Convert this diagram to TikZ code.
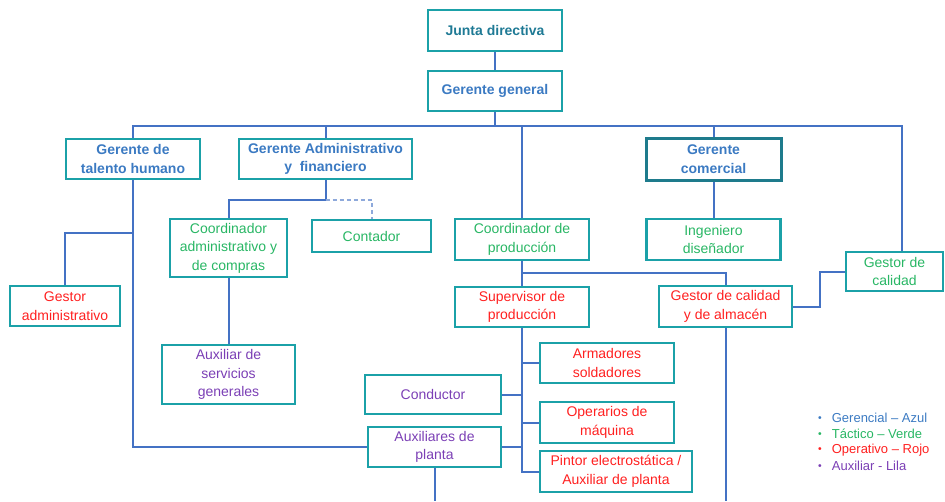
\documentclass[tikz,border=0pt]{standalone}
\usepackage{fontspec}
\usepackage{graphicx}
\setmainfont{Liberation Sans}
\usetikzlibrary{calc}

\definecolor{borde}{RGB}{27,161,168}
\definecolor{bordeosc}{RGB}{30,123,140}
\definecolor{linea}{RGB}{68,114,196}
\definecolor{lineaclara}{RGB}{142,169,219}
\definecolor{azul}{RGB}{59,122,194}
\definecolor{jdcol}{RGB}{31,122,149}
\definecolor{verde}{RGB}{40,182,100}
\definecolor{rojo}{RGB}{255,32,32}
\definecolor{lila}{RGB}{123,63,181}

\newcommand{\vineta}{\raisebox{1pt}{\scalebox{0.8}{\textbullet}}\hspace{10pt}}

\begin{document}
\begin{tikzpicture}[x=1pt, y=-1pt,
	box/.style = {draw=borde, line width=2.5pt, inner sep=0pt, align=center, font=\fontsize{14}{18.5}\selectfont},
	wh/.style 2 args = {minimum width=#1pt, minimum height=#2pt},
	ger/.style = {box, text=azul, font=\fontsize{14}{18.5}\selectfont\bfseries},
	tac/.style = {box, text=verde},
	ope/.style = {box, text=rojo},
	aux/.style = {box, text=lila},
	con/.style = {draw=linea, line width=2pt},
	leg/.style = {anchor=west, inner sep=0pt, font=\fontsize{13}{15}\selectfont}]
	\useasboundingbox (0,0) rectangle (945,501);
	% nivel gerencial
	\node[ger, text=jdcol, wh={134}{41}] (jd) at (495,30.5) {Junta directiva};
	\node[ger, wh={134}{40}] (gg) at (495,91) {Gerente general};
	\node[ger, wh={134}{40}] (gth) at (133,159) {Gerente de\\talento humano};
	\node[ger, wh={173}{40}] (gaf) at (325.5,159) {Gerente Administrativo\\y\ \ financiero};
	\node[ger, draw=bordeosc, line width=3pt, wh={135}{42}] (gc) at (713.5,159) {Gerente\\comercial};
	% nivel tactico
	\node[tac, wh={117}{58}] (cad) at (228.5,248) {Coordinador\\administrativo y\\de compras};
	\node[tac, wh={119}{32}] (cont) at (371.5,236) {Contador};
	\node[tac, wh={134}{41}] (cp) at (522,239.5) {Coordinador de\\producción};
	\node[tac, wh={134}{41}] (ing) at (713.5,239.5) {Ingeniero\\diseñador};
	\node[tac, wh={97}{39}] (gcal) at (894.5,271.5) {Gestor de\\calidad};
	% nivel operativo
	\node[ope, wh={110}{40}] (gadm) at (65,306) {Gestor\\administrativo};
	\node[ope, wh={134}{40}] (sup) at (522,307) {Supervisor de\\producción};
	\node[ope, wh={133}{41}] (gca) at (725.5,306.5) {Gestor de calidad\\y de almacén};
	\node[ope, wh={134}{40}] (arm) at (607,363) {Armadores\\soldadores};
	\node[ope, wh={134}{41}] (opm) at (607,422.5) {Operarios de\\máquina};
	\node[ope, wh={152}{41}] (pin) at (616,471.5) {Pintor electrostática /\\Auxiliar de planta};
	% nivel auxiliar
	\node[aux, wh={133}{59}] (asg) at (228.5,374.5) {Auxiliar de\\servicios\\generales};
	\node[aux, wh={136}{39}] (cond) at (433,394.5) {Conductor};
	\node[aux, wh={133}{40}] (aup) at (434.5,447) {Auxiliares de\\planta};
	\coordinate (fin1) at (434.5,501);
	\coordinate (fin2) at (725.5,501);
	% conexiones
	\draw[con] (jd) -- (gg);
	\draw[con] (gg.south) -- ++(0,14) coordinate (bus);
	\draw[con] (bus) -| (gth);
	\draw[con] (bus) -| (gaf);
	\draw[con] (bus) -| (cp);
	\draw[con] (bus) -| (gc);
	\draw[con] (bus) -| ($(gcal.north)+(7,0)$);
	\draw[con] (gth) |- (aup);
	\draw[con] ($(gth.south)+(0,53)$) -| (gadm);
	\draw[con] (gaf.south) -- ++(0,20) coordinate (ga1);
	\draw[con] (ga1) -| (cad);
	\draw[con, draw=lineaclara, line width=2pt, dash pattern=on 4pt off 3pt] (ga1) -| (cont);
	\draw[con] (cad) -- (asg);
	\draw[con] (gc) -- (ing);
	\draw[con] (cp) -- (sup);
	\draw[con] ($(cp.south)+(0,12)$) -| (gca);
	\draw[con] (gca.east) -- ++(27,0) |- (gcal);
	\draw[con] (gca) -- (fin2);
	\draw[con] (sup) |- (pin);
	\draw[con] (arm) -| (sup);
	\draw[con] (opm) -| (sup);
	\draw[con] (cond) -| (sup);
	\draw[con] (aup) -| (sup);
	\draw[con] (aup) -- (fin1);
	% leyenda
	\node[leg, text=azul] (l1) at (818,418) {\vineta Gerencial – Azul};
	\node[leg, text=verde] (l2) at (818,434) {\vineta Táctico – Verde};
	\node[leg, text=rojo] (l3) at (818,450) {\vineta Operativo – Rojo};
	\node[leg, text=lila] (l4) at (818,466) {\vineta Auxiliar - Lila};
\end{tikzpicture}
\end{document}
